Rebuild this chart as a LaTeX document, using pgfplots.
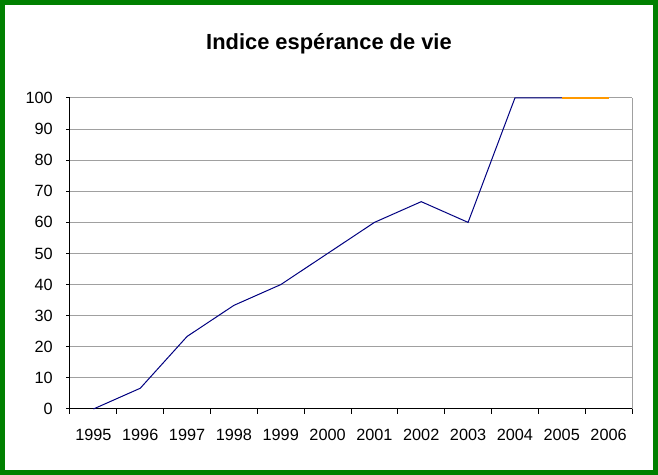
\documentclass[border=0pt]{standalone}
\usepackage{fontspec}
\setmainfont{Liberation Sans}
\usepackage{pgfplots}
\pgfplotsset{compat=1.18}
\definecolor{frameGreen}{RGB}{0,128,0}
\definecolor{lineNavy}{RGB}{0,0,128}
\definecolor{lineOrange}{RGB}{255,153,0}
\definecolor{gridGray}{RGB}{160,160,160}

\begin{document}
\begin{tikzpicture}
\useasboundingbox (0,0) rectangle (493.5pt,356.25pt);
\draw[frameGreen, line width=3.75pt] (1.875pt,1.875pt) rectangle (491.625pt,354.375pt);
\node[font=\bfseries\fontsize{16.4}{19}\selectfont] at (246.75pt,323.5pt) {Indice espérance de vie};
\begin{axis}[
  at={(52.5pt,49.5pt)}, anchor=south west,
  scale only axis, width=421.5pt, height=233.25pt,
  xmin=-0.5, xmax=11.5, ymin=0, ymax=100,
  axis x line*=bottom, axis y line*=left,
  axis line style={black, line width=0.75pt, -},
  xtick={0,...,11},
  xticklabels={1995,1996,1997,1998,1999,2000,2001,2002,2003,2004,2005,2006},
  minor xtick={-0.5,0.5,...,11.5},
  ytick={0,10,...,100},
  tick align=outside,
  major tick length=3pt,
  minor tick length=3.75pt,
  major x tick style={draw=none},
  minor x tick style={black, line width=0.75pt},
  ytick style={black, line width=0.75pt},
  ymajorgrids,
  grid style={gridGray, line width=0.75pt},
  tick label style={font=\fontsize{12.2}{14}\selectfont, black},
  /pgf/number format/assume math mode=true,
  xticklabel style={anchor=base, yshift=-20.5pt, inner sep=0pt},
  yticklabel style={anchor=east, inner sep=0pt, xshift=-9.75pt},
  clip=false,
]
\draw[gridGray, line width=0.75pt] (rel axis cs:1,0) -- (rel axis cs:1,1);
\addplot[color=lineNavy, line width=0.75pt] coordinates {
  (0,0) (1,6.67) (2,23.33) (3,33.33) (4,40) (5,50) (6,60) (7,66.67) (8,60) (9,100) (10,100)
};
\addplot[color=lineOrange, line width=1pt] coordinates {
  (10,100) (11,100)
};
\end{axis}
\end{tikzpicture}
\end{document}
